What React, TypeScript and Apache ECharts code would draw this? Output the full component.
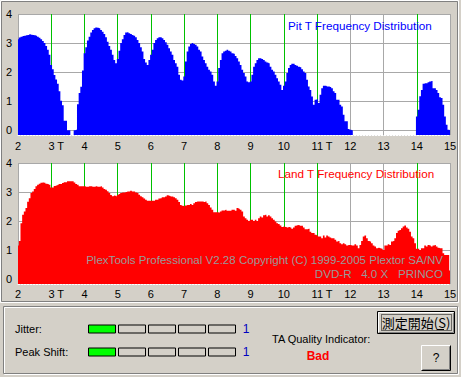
import React, { useEffect, useRef } from 'react';
import * as echarts from 'echarts';

// ---- data ----
const X_START = 2;
const X_STEP = 0.05;
const xTickValues = [2, 3, 4, 5, 6, 7, 8, 9, 10, 11, 12, 13, 14, 15];
const xTickLabels = ['2', '3 T', '4', '5', '6', '7', '8', '9', '10', '11 T', '12', '13', '14', '15'];
const greenLineValues = [3, 4, 5, 6, 7, 8, 9, 10, 11, 14];
const yTickLabels = ['0', '1', '2', '3', '4'];

// Pit T frequency (blue), x = 2.00, 2.05, ... 15.00
const pitValues: (number | null)[] = [
  3.13, 3.19, 3.22, 3.24, 3.25, 3.27, 3.28, 3.30, 3.29, 3.28,
  3.27, 3.25, 3.22, 3.18, 3.13, 3.07, 3.00, 2.90, 2.77, 2.60,
  2.25, 2.10, 1.90, 1.75, 1.60, 1.34, 1.02, 0.86, 0.33, 0.33,
  0.00, 0.00, null, null, 0.00, 0.02, 0.90, 1.28, 1.50, 2.06,
  2.65, 2.86, 3.09, 3.22, 3.36, 3.45, 3.51, 3.54, 3.53, 3.51,
  3.45, 3.39, 3.31, 3.20, 3.05, 2.90, 2.77, 2.60, 2.42, 2.31,
  2.45, 2.74, 3.00, 3.13, 3.28, 3.36, 3.37, 3.34, 3.31, 3.28,
  3.25, 3.20, 3.11, 3.00, 2.86, 2.71, 2.45, 2.33, 2.25, 2.42,
  2.60, 2.77, 3.00, 3.11, 3.17, 3.20, 3.20, 3.17, 3.11, 3.03,
  2.94, 2.82, 2.71, 2.60, 2.42, 2.31, 2.19, 1.91, 1.74, 1.71,
  1.85, 2.37, 2.71, 2.88, 2.97, 3.00, 2.97, 2.94, 2.88, 2.77,
  2.71, 2.54, 2.42, 2.31, 2.19, 2.08, 2.02, 1.91, 1.68, 1.53,
  1.68, 2.14, 2.42, 2.65, 2.71, 2.74, 2.77, 2.74, 2.71, 2.65,
  2.63, 2.56, 2.48, 2.37, 2.25, 2.08, 1.97, 1.85, 1.68, 1.65,
  1.68, 1.91, 2.19, 2.31, 2.42, 2.48, 2.48, 2.45, 2.42, 2.37,
  2.33, 2.31, 2.19, 2.08, 2.02, 1.91, 1.79, 1.68, 1.57, 1.39,
  1.53, 1.68, 1.97, 2.14, 2.25, 2.29, 2.29, 2.25, 2.22, 2.19,
  2.17, 2.10, 2.02, 1.97, 1.74, 1.51, 1.39, 1.16, 0.88, 1.05,
  1.07, 0.94, 1.22, 1.45, 1.53, 1.53, 1.51, 1.51, 1.49, 1.45,
  1.34, 1.28, 1.05, 1.05, 0.88, 0.82, 0.54, 0.31, 0.31, 0.05,
  0.02, 0.00, null, null, null, null, null, null, null, null,
  null, null, null, null, null, null, null, null, null, null,
  null, null, null, null, null, null, null, null, null, null,
  null, null, null, null, null, null, null, null, null, null,
  0.48, 0.71, 1.17, 1.39, 1.60, 1.62, 1.62, 1.65, 1.68, 1.70,
  1.45, 1.45, 1.39, 1.28, 1.14, 1.11, 0.88, 0.48, 0.19, 0.02,
  0.00,
];

// Land T frequency (red), x = 2.00, 2.05, ... 15.25
const landValues: number[] = [
  1.16, 1.32, 1.93, 2.22, 2.33, 2.45, 2.67, 2.79, 2.97, 3.02,
  3.11, 3.20, 3.25, 3.29, 3.32, 3.33, 3.32, 3.29, 3.28, 3.25,
  3.16, 3.16, 3.21, 3.23, 3.25, 3.28, 3.28, 3.31, 3.34, 3.34,
  3.37, 3.37, 3.37, 3.37, 3.33, 3.28, 3.25, 3.20, 3.20, 3.20,
  3.20, 3.18, 3.18, 3.20, 3.20, 3.18, 3.18, 3.20, 3.18, 3.18,
  3.20, 3.16, 3.11, 3.08, 3.03, 2.97, 2.90, 2.86, 2.88, 2.86,
  2.90, 2.93, 2.97, 2.99, 2.99, 3.00, 3.02, 3.02, 3.05, 3.02,
  3.02, 2.99, 2.97, 2.91, 2.86, 2.82, 2.78, 2.74, 2.70, 2.70,
  2.70, 2.70, 2.70, 2.74, 2.74, 2.78, 2.79, 2.82, 2.82, 2.85,
  2.89, 2.87, 2.85, 2.85, 2.82, 2.79, 2.74, 2.66, 2.56, 2.53,
  2.51, 2.54, 2.56, 2.56, 2.59, 2.56, 2.62, 2.66, 2.68, 2.68,
  2.68, 2.68, 2.66, 2.68, 2.62, 2.56, 2.47, 2.39, 2.31, 2.31,
  2.31, 2.30, 2.33, 2.37, 2.37, 2.39, 2.36, 2.36, 2.36, 2.39,
  2.39, 2.36, 2.45, 2.43, 2.39, 2.33, 2.16, 2.10, 2.05, 2.01,
  2.05, 2.05, 2.01, 2.05, 2.01, 2.10, 2.16, 2.13, 2.20, 2.22,
  2.16, 2.20, 2.16, 2.10, 2.05, 1.99, 1.93, 1.90, 1.85, 1.80,
  1.82, 1.80, 1.78, 1.80, 1.78, 1.74, 1.78, 1.84, 1.86, 1.87,
  1.84, 1.84, 1.78, 1.72, 1.72, 1.74, 1.64, 1.59, 1.59, 1.53,
  1.51, 1.47, 1.47, 1.41, 1.51, 1.44, 1.51, 1.47, 1.44, 1.41,
  1.41, 1.36, 1.30, 1.32, 1.24, 1.21, 1.24, 1.21, 1.16, 1.18,
  1.18, 1.16, 1.16, 1.21, 1.16, 1.07, 1.18, 1.32, 1.47, 1.51,
  1.41, 1.32, 1.30, 1.24, 1.16, 1.13, 1.07, 1.09, 1.07, 1.05,
  1.01, 1.16, 1.16, 1.21, 1.18, 1.30, 1.32, 1.41, 1.59, 1.67,
  1.70, 1.76, 1.82, 1.85, 1.78, 1.74, 1.64, 1.47, 1.41, 1.24,
  1.05, 1.05, 1.01, 1.07, 1.07, 1.16, 1.13, 1.18, 1.16, 1.13,
  1.16, 1.18, 1.13, 1.09, 1.07, 1.07, 0.90, 0.84, 0.84, 0.84,
  0.30, 0.88, 0.90, 0.92, 0.92, 0.92,
];

const jitterLevel = 1;
const peakShiftLevel = 1;
const levelCount = 5;
const jitterValueText = '1';
const peakShiftValueText = '1';
const qualityText = 'Bad';

// ---- styles ----
const BG = '#d4d0c8';
const GRID_GRAY = '#a8a8a8';
const GREEN = '#00c000';
const FONT = '"Liberation Sans", Arial, sans-serif';

const toPairs = (vals: (number | null)[]) => vals.map((v, i) => [X_START + i * X_STEP, v]);

function makeXAxis(gridIndex: number, margin: number) {
  return {
    type: 'value',
    gridIndex,
    min: 2,
    max: 15,
    interval: 1,
    axisLine: { show: true, onZero: false, lineStyle: { color: '#ffffff', width: 1, type: [2, 1] } },
    axisTick: { show: false },
    axisLabel: {
      margin,
      color: '#000',
      fontSize: 11,
      fontFamily: FONT,
      formatter: (v: number) => {
        const idx = xTickValues.indexOf(Math.round(v));
        const s = idx >= 0 ? xTickLabels[idx] : '';
        if (s.endsWith(' T')) return '{pad| }' + s;
        return s;
      },
      rich: { pad: { width: 10, fontSize: 11, fontFamily: FONT } },
    },
    splitLine: {
      show: true,
      lineStyle: {
        width: 1,
        color: xTickValues.map((v) => (greenLineValues.includes(v) ? GREEN : GRID_GRAY)),
      },
    },
  };
}

function makeYAxis(gridIndex: number) {
  return {
    type: 'value',
    gridIndex,
    min: -0.16,
    max: 4,
    axisLine: { show: false },
    axisTick: { show: false },
    axisLabel: {
      margin: 6,
      color: '#000',
      fontSize: 11,
      fontFamily: FONT,
      formatter: (v: number) => {
        if (v < -0.01) return '';
        const r = Math.round(v);
        return Math.abs(v - r) < 0.01 ? yTickLabels[r] ?? '' : '';
      },
    },
    splitLine: { show: true, lineStyle: { color: GRID_GRAY, width: 1 } },
  };
}

function text(x: number, y: number, t: string, opts: any = {}) {
  return {
    type: 'text',
    x,
    y,
    z: 100,
    silent: true,
    style: {
      text: t,
      fill: opts.fill ?? '#000',
      font: opts.font ?? `11px ${FONT}`,
      textAlign: opts.align ?? 'left',
      align: opts.align ?? 'left',
      textVerticalAlign: 'middle',
      verticalAlign: 'middle',
    },
  };
}

function levelBoxes(level: number, y: number, h: number) {
  const out: any[] = [];
  for (let k = 0; k < levelCount; k++) {
    out.push({
      type: 'rect',
      z: 50,
      silent: true,
      shape: { x: 88.5 + k * 30, y: y + 0.5, width: 27, height: h },
      style: { fill: k < level ? '#00ff00' : BG, stroke: '#000', lineWidth: 1 },
    });
  }
  return out;
}

export default function App() {
  const ref = useRef<HTMLDivElement>(null);
  useEffect(() => {
    if (!ref.current) return;
    const chart = echarts.init(ref.current, undefined, { renderer: 'svg' });
    const graphics: any[] = [
      // outer frame of the chart region
      { type: 'rect', z: 1, silent: true, shape: { x: 0.5, y: 0.5, width: 458, height: 302 }, style: { fill: 'none', stroke: '#ffffff' } },
      { type: 'rect', z: 1, silent: true, shape: { x: 1.5, y: 1.5, width: 456, height: 300 }, style: { fill: 'none', stroke: '#808080' } },
      // group box
      { type: 'rect', z: 1, silent: true, shape: { x: 4.5, y: 307.5, width: 454, height: 67 }, style: { fill: 'none', stroke: '#ffffff' } },
      { type: 'rect', z: 1, silent: true, shape: { x: 3.5, y: 306.5, width: 454, height: 67 }, style: { fill: 'none', stroke: '#808080' } },
      // chart titles and watermark
      text(288, 25, 'Pit T Frequency Distribution', { fill: '#0000ff', font: `11.7px ${FONT}` }),
      text(278, 173, 'Land T Frequency Distribution', { fill: '#ff0000', font: `11.7px ${FONT}` }),
      text(443, 260, 'PlexTools Professional V2.28 Copyright (C) 1999-2005 Plextor SA/NV', { fill: '#999999', font: `11.55px ${FONT}`, align: 'right' }),
      text(443, 273, 'DVD-R   4.0 X   PRINCO', { fill: '#999999', font: `11.6px ${FONT}`, align: 'right' }),
      // bottom panel
      text(15, 329, 'Jitter:'),
      text(15, 352, 'Peak Shift:'),
      ...levelBoxes(jitterLevel, 324.5, 8),
      ...levelBoxes(peakShiftLevel, 347.5, 8),
      text(246, 329, jitterValueText, { fill: '#0000c0', font: `12px ${FONT}`, align: 'center' }),
      text(246, 352, peakShiftValueText, { fill: '#0000c0', font: `12px ${FONT}`, align: 'center' }),
      text(272, 339, 'TA Quality Indicator:'),
      text(318, 356, qualityText, { fill: '#ff0000', font: `bold 12px ${FONT}`, align: 'center' }),
      // start button
      { type: 'rect', z: 50, silent: true, shape: { x: 377.5, y: 311.5, width: 77, height: 22 }, style: { fill: BG, stroke: '#000' } },
      { type: 'polyline', z: 51, silent: true, shape: { points: [[378.5, 332], [378.5, 312.5], [453.5, 312.5]] }, style: { fill: 'none', stroke: '#ffffff' } },
      { type: 'polyline', z: 51, silent: true, shape: { points: [[379, 332.5], [453.5, 332.5], [453.5, 313]] }, style: { fill: 'none', stroke: '#808080' } },
      { type: 'rect', z: 51, silent: true, shape: { x: 381.5, y: 314.5, width: 70, height: 16 }, style: { fill: 'none', stroke: '#000', lineDash: [1, 1] } },
      text(416, 322.5, '測定開始(S)', { font: '13px "Noto Sans CJK JP", sans-serif', align: 'center' }),
      { type: 'line', z: 101, silent: true, shape: { x1: 437, y1: 329.5, x2: 444, y2: 329.5 }, style: { stroke: '#000' } },
      // help button
      { type: 'rect', z: 50, silent: true, shape: { x: 421.5, y: 345.5, width: 29, height: 25 }, style: { fill: BG, stroke: 'none' } },
      { type: 'polyline', z: 51, silent: true, shape: { points: [[421.5, 370.5], [421.5, 345.5], [450.5, 345.5]] }, style: { fill: 'none', stroke: '#ffffff' } },
      { type: 'polyline', z: 51, silent: true, shape: { points: [[421.5, 370.5], [450.5, 370.5], [450.5, 345.5]] }, style: { fill: 'none', stroke: '#000' } },
      { type: 'polyline', z: 51, silent: true, shape: { points: [[422.5, 369.5], [449.5, 369.5], [449.5, 346.5]] }, style: { fill: 'none', stroke: '#808080' } },
      text(436, 358, '?', { font: `12px ${FONT}`, align: 'center' }),
    ];

    chart.setOption({
      animation: false,
      backgroundColor: BG,
      grid: [
        { left: 18, top: 14, width: 432, height: 121, show: true, backgroundColor: '#ffffff', borderWidth: 0 },
        { left: 18, top: 163, width: 432, height: 121, show: true, backgroundColor: '#ffffff', borderWidth: 0 },
      ],
      xAxis: [makeXAxis(0, 5), makeXAxis(1, 4)],
      yAxis: [makeYAxis(0), makeYAxis(1)],
      series: [
        {
          type: 'line',
          xAxisIndex: 0,
          yAxisIndex: 0,
          data: toPairs(pitValues),
          step: 'middle',
          symbol: 'none',
          silent: true,
          lineStyle: { width: 0, color: '#0000ff' },
          areaStyle: { color: '#0000ff', opacity: 1, origin: 'start' },
          z: 2,
        },
        {
          type: 'line',
          xAxisIndex: 1,
          yAxisIndex: 1,
          data: toPairs(landValues),
          step: 'middle',
          symbol: 'none',
          silent: true,
          clip: false,
          lineStyle: { width: 0, color: '#ff0000' },
          areaStyle: { color: '#ff0000', opacity: 1, origin: 'start' },
          z: 2,
        },
      ],
      graphic: { elements: graphics },
    });
    return () => chart.dispose();
  }, []);
  return <div ref={ref} style={{ position: 'absolute', left: 0, top: 0, width: 461, height: 377 }} />;
}
